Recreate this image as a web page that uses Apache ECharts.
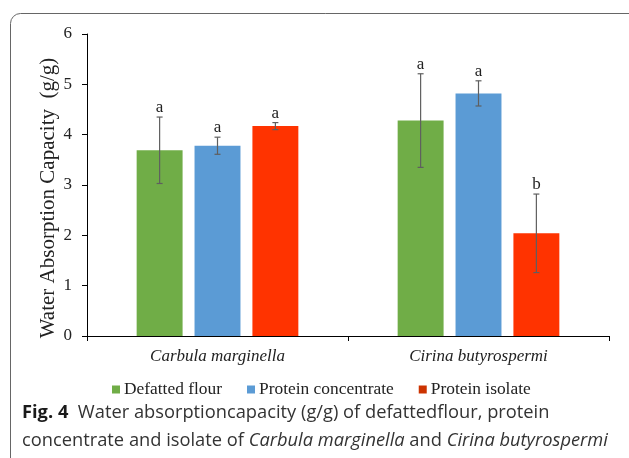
<!DOCTYPE html>
<html><head><meta charset="utf-8">
<script src="https://cdn.jsdelivr.net/npm/echarts@6/dist/echarts.min.js"></script>
<style>html,body{margin:0;padding:0;background:#fff}#c{width:629px;height:458px}</style>
</head><body><div id="c"></div>
<script>
const categories = ['Carbula marginella', 'Cirina butyrospermi'];
const seriesNames = ['Defatted flour', 'Protein concentrate', 'Protein isolate'];
const defattedFlour = [3.69, 4.28];
const proteinConcentrate = [3.78, 4.82];
const proteinIsolate = [4.17, 2.04];
const defattedFlourErr = [0.66, 0.93];
const proteinConcentrateErr = [0.17, 0.25];
const proteinIsolateErr = [0.07, 0.78];
const defattedFlourLetters = ['a', 'a'];
const proteinConcentrateLetters = ['a', 'a'];
const proteinIsolateLetters = ['a', 'b'];
const yTicks = [0, 1, 2, 3, 4, 5, 6];
const yTitle = 'Water Absorption Capacity  (g/g)';

const colors = ['#70AD47', '#5B9BD5', '#FF3300'];
const legendColors = ['#70AD47', '#5B9BD5', '#CC3300'];
const values = [defattedFlour, proteinConcentrate, proteinIsolate];
const errs = [defattedFlourErr, proteinConcentrateErr, proteinIsolateErr];
const letters = [defattedFlourLetters, proteinConcentrateLetters, proteinIsolateLetters];

const BAR_W = 0.176, GAP = 0.26;
const serif = '"Liberation Serif", "DejaVu Serif", serif';
const sans = '"Open Sans", "Noto Sans", sans-serif';

const chart = echarts.init(document.getElementById('c'), null, {renderer: 'canvas'});
const series = [];
seriesNames.forEach((n, i) => {
  series.push({
    name: n, type: 'bar', data: values[i], barWidth: (BAR_W * 100) + '%', barGap: (GAP * 100) + '%',
    itemStyle: {color: colors[i]}, emphasis: {disabled: true}
  });
});
seriesNames.forEach((n, i) => {
  series.push({
    type: 'custom', name: n + ' err',
    data: values[i].map((v, k) => [k, v, errs[i][k]]),
    z: 10,
    renderItem: function (params, api) {
      const k = api.value(0), v = api.value(1), e = api.value(2);
      const cw = api.size([1, 0])[0];
      const bw = cw * BAR_W, g = bw * GAP;
      const off = (i - 1) * (bw + g);
      const top = api.coord([k, v + e]);
      const bot = api.coord([k, v - e]);
      const x = top[0] + off;
      const cap = 3;
      const st = {stroke: '#5f5f5f', lineWidth: 1.2};
      return {type: 'group', children: [
        {type: 'line', shape: {x1: x, y1: top[1], x2: x, y2: bot[1]}, style: st},
        {type: 'line', shape: {x1: x - cap, y1: top[1], x2: x + cap, y2: top[1]}, style: st},
        {type: 'line', shape: {x1: x - cap, y1: bot[1], x2: x + cap, y2: bot[1]}, style: st},
        {type: 'text', x: x, y: top[1] - 1, style: {text: letters[i][k], fill: '#222', font: '17px ' + serif, textAlign: 'center', textVerticalAlign: 'bottom'}}
      ]};
    }
  });
});

chart.setOption({
  animation: false,
  grid: {left: 87, right: 20, top: 34, bottom: 122, containLabel: false},
  legend: {
    top: 376, left: 107, itemWidth: 8, itemHeight: 8, itemGap: 25, icon: 'rect',
    textStyle: {fontFamily: serif, fontSize: 17.4, color: '#222', padding: [0, 0, 0, -1]},
    data: seriesNames.map((n, i) => ({name: n, itemStyle: {color: legendColors[i]}}))
  },
  xAxis: {
    type: 'category', data: categories,
    axisLine: {lineStyle: {color: '#000', width: 1}},
    axisTick: {show: true, length: 5, lineStyle: {color: '#000'}},
    axisLabel: {fontFamily: serif, fontStyle: 'italic', fontSize: 17, color: '#222', margin: 12}
  },
  yAxis: {
    type: 'value', min: yTicks[0], max: yTicks[yTicks.length - 1], interval: 1,
    axisLine: {show: true, lineStyle: {color: '#000', width: 1}},
    axisTick: {show: true, length: 5, lineStyle: {color: '#000'}},
    splitLine: {show: false},
    axisLabel: {fontFamily: serif, fontSize: 17, color: '#222', margin: 15}
  },
  graphic: [
    {type: 'rect', shape: {x: 10.5, y: 13.5, width: 700, height: 500, r: [10, 0, 0, 0]}, style: {fill: 'none', stroke: '#666', lineWidth: 1}, silent: true},
    {type: 'text', x: 48, y: 198, rotation: Math.PI / 2, style: {text: yTitle, font: '21px ' + serif, fill: '#222', textAlign: 'center', textVerticalAlign: 'middle'}},
    {type: 'text', left: 22, top: 404, style: {
      rich: {
        b: {fontFamily: sans, fontWeight: 'bold', fontSize: 18.3, fill: '#1a1a1a', lineHeight: 28},
        r: {fontFamily: sans, fontSize: 18.3, fill: '#333', lineHeight: 28},
        i: {fontFamily: sans, fontStyle: 'italic', fontSize: 18.3, fill: '#333', lineHeight: 28}
      },
      text: '{b|Fig. 4}{r|  Water absorptioncapacity (g/g) of defattedflour, protein}\n{r|concentrate and isolate of }{i|Carbula marginella}{r| and }{i|Cirina butyrospermi}'
    }}
  ],
  series: series
});
</script></body></html>
